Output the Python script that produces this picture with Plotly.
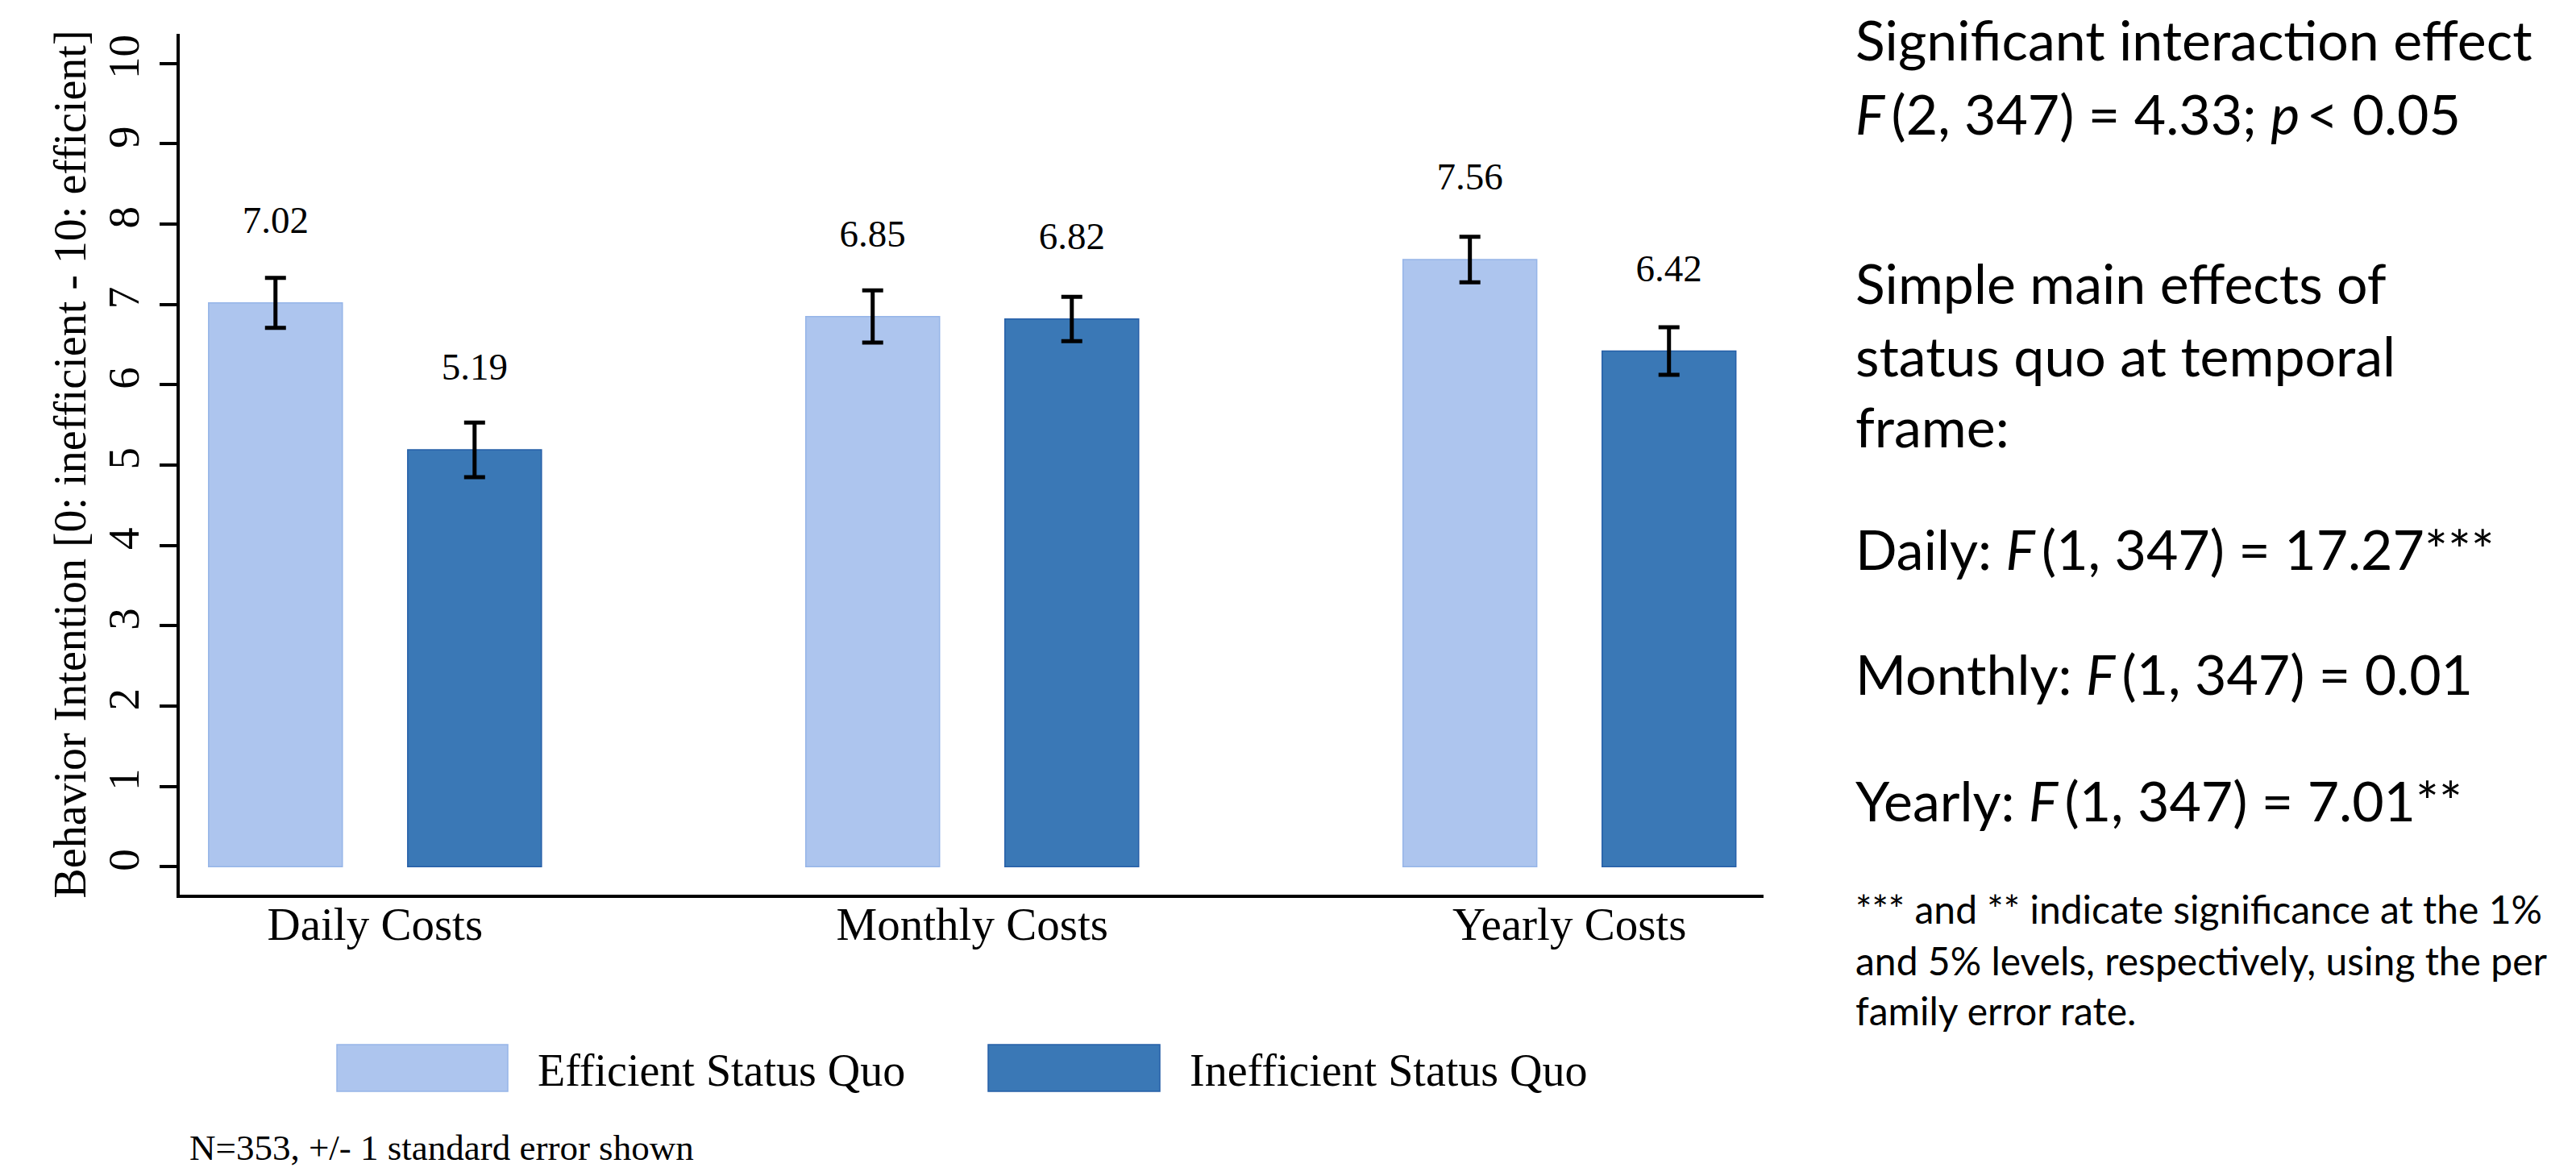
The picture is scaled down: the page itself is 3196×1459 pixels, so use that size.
import plotly.graph_objects as go

# ---------------- data ----------------
categories = ["Daily Costs", "Monthly Costs", "Yearly Costs"]
series_names = ["Efficient Status Quo", "Inefficient Status Quo"]
efficient_means = [7.02, 6.85, 7.56]
inefficient_means = [5.19, 6.82, 6.42]
efficient_se = [0.31, 0.325, 0.283]
inefficient_se = [0.34, 0.276, 0.296]
y_tick_values = list(range(0, 11))
y_title = "Behavior Intention [0: inefficient - 10: efficient]"
footnote = "N=353, +/- 1 standard error shown"
stats_lines = [
    "Significant interaction effect",
    "<i>F</i>\u2009(2, 347) = 4.33; <i>p</i>\u2009< 0.05",
    "Simple main effects of",
    "status quo at temporal",
    "frame:",
    "Daily: <i>F</i>\u2009(1, 347) = 17.27***",
    "Monthly: <i>F</i>\u2009(1, 347) = 0.01",
    "Yearly: <i>F</i>\u2009(1, 347) = 7.01**",
]
note_lines = [
    "*** and ** indicate significance at the 1%",
    "and 5% levels, respectively, using the per",
    "family error rate.",
]

# ---------------- style ----------------
W, H = 3196, 1459
L, R, T, B = 223, 2188, 42, 1110
SERIF = "Liberation Serif, Times New Roman, serif"
SANS = "Lato, Carlito, Calibri, sans-serif"
LIGHT = "rgb(173,197,238)"
LIGHT_EDGE = "rgb(150,181,232)"
DARK = "rgb(58,120,182)"
DARK_EDGE = "rgb(38,95,168)"
BAR_OFFSET = 0.1667
BAR_WIDTH = 0.224
LABEL_GAP = 0.99


def paper(xp, yp):
    return (xp - L) / (R - L), (B - yp) / (B - T)


fig = go.Figure()
series = [
    (series_names[0], efficient_means, efficient_se, LIGHT, LIGHT_EDGE, -BAR_OFFSET),
    (series_names[1], inefficient_means, inefficient_se, DARK, DARK_EDGE, BAR_OFFSET),
]
for name, means, se, col, edge, off in series:
    xs = [i + off for i in range(len(categories))]
    fig.add_trace(go.Bar(
        x=xs, y=means, width=BAR_WIDTH, name=name,
        marker=dict(color=col, line=dict(color=edge, width=1.5)),
        error_y=dict(type="data", array=se, color="black", thickness=5, width=13),
        showlegend=False,
    ))
    fig.add_trace(go.Scatter(
        x=xs, y=[m + LABEL_GAP for m in means], mode="text",
        text=[f"{m:.2f}" for m in means], textposition="middle center",
        textfont=dict(family=SERIF, size=47, color="black"),
        showlegend=False, hoverinfo="skip",
    ))

annotations = []
# manual legend
legend_items = [(418, 630, 665, LIGHT, LIGHT_EDGE, series_names[0]),
                (1226, 1439, 1474, DARK, DARK_EDGE, series_names[1])]
shapes = []
for x0, x1, tx, col, edge, label in legend_items:
    px0, py0 = paper(x0, 1354)
    px1, py1 = paper(x1, 1296)
    shapes.append(dict(type="rect", xref="paper", yref="paper", x0=px0, x1=px1,
                       y0=py0, y1=py1, fillcolor=col, line=dict(color=edge, width=1.5)))
    ax, ay = paper(tx, 1328)
    annotations.append(dict(xref="paper", yref="paper", x=ax, y=ay, text=label,
                            showarrow=False, xanchor="left", yanchor="middle",
                            font=dict(family=SERIF, size=56, color="black")))

ax, ay = paper(233, 1424)
annotations.append(dict(xref="paper", yref="paper", x=ax, y=ay, text=footnote,
                        showarrow=False, xanchor="left", yanchor="middle",
                        font=dict(family=SERIF, size=45, color="black")))

stats_y = [49, 140, 350, 440, 528, 680, 836, 992]
for text, yp in zip(stats_lines, stats_y):
    ax, ay = paper(2300, yp)
    annotations.append(dict(xref="paper", yref="paper", x=ax, y=ay, text=text,
                            showarrow=False, xanchor="left", yanchor="middle",
                            font=dict(family=SANS, size=68, color="black")))
note_y = [1127, 1191, 1253]
for text, yp in zip(note_lines, note_y):
    ax, ay = paper(2300, yp)
    annotations.append(dict(xref="paper", yref="paper", x=ax, y=ay, text=text,
                            showarrow=False, xanchor="left", yanchor="middle",
                            font=dict(family=SANS, size=48, color="black")))

fig.update_layout(
    width=W, height=H,
    margin=dict(l=L, r=W - R, t=T, b=H - B, pad=0),
    paper_bgcolor="white", plot_bgcolor="white",
    barmode="overlay",
    shapes=shapes, annotations=annotations,
    xaxis=dict(range=[-0.327, 2.325], tickmode="array", tickvals=list(range(len(categories))),
               ticktext=categories, showline=True, linecolor="black", linewidth=3.5,
               ticks="", showgrid=False, zeroline=False, ticklabelstandoff=-16,
               tickfont=dict(family=SERIF, size=57, color="black")),
    yaxis=dict(range=[-0.35, 10.37], tickmode="array", tickvals=y_tick_values,
               showline=True, linecolor="black", linewidth=3.5,
               ticks="outside", ticklen=21, tickwidth=3.5, tickcolor="black",
               tickangle=-90, showgrid=False, zeroline=False, ticklabelstandoff=4,
               tickfont=dict(family=SERIF, size=55, color="black"),
               title=dict(text=y_title, standoff=0,
                          font=dict(family=SERIF, size=56, color="black"))),
)

fig.write_html("out.html")
